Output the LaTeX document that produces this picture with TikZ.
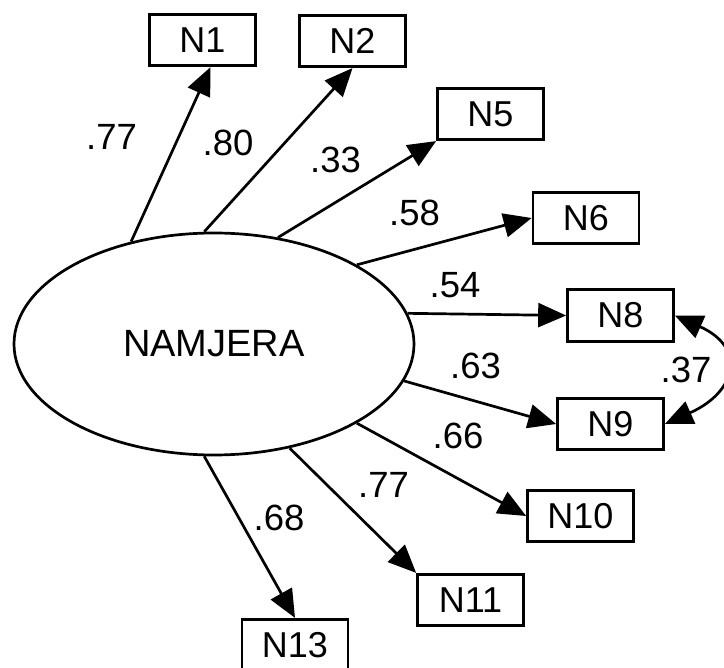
\documentclass[tikz,border=0pt]{standalone}
\usepackage{fontspec}
\setmainfont{Liberation Sans}
\usetikzlibrary{arrows.meta,shapes.geometric}
\begin{document}
\begin{tikzpicture}[x=1pt,y=-1pt,
  obs/.style={draw, line width=2.7pt, minimum width=106pt, minimum height=51.5pt, inner sep=0pt, font=\fontsize{36}{42}\selectfont},
  latent/.style={draw, ellipse, line width=2.7pt, minimum width=400pt, minimum height=222pt, inner sep=0pt, font=\fontsize{38}{44}\selectfont},
  load/.style={line width=2.7pt, -{Triangle[length=28pt,width=24pt]}},
  cov/.style={line width=2.7pt, {Triangle[length=28pt,width=24pt]}-{Triangle[length=28pt,width=24pt]}},
  coef/.style={inner sep=0pt, font=\fontsize{36.5}{42}\selectfont}]
\useasboundingbox (0,0) rectangle (724,668);
\fill[white] (0,0) rectangle (724,668);

\node[latent] (F) at (214,344) {NAMJERA};
\node[obs] (N1) at (202.5,40) {N1};
\node[obs] (N2) at (352.5,41) {N2};
\node[obs] (N5) at (490.5,114) {N5};
\node[obs] (N6) at (586,218) {N6};
\node[obs] (N8) at (620.5,315.5) {N8};
\node[obs] (N9) at (610.5,424) {N9};
\node[obs] (N10) at (580.5,516) {N10};
\node[obs] (N11) at (470.5,600) {N11};
\node[obs] (N13) at (295,645) {N13};

\draw[load] (F.129.6) -- ([xshift=8pt]N1.south);
\draw[load] (F.95.6) -- (N2.south);
\draw[load] (F.59.3) -- (N5.south west);
\draw[load] (F.29.8) -- (N6.west);
\draw[load] (F.9.8) -- (N8.west);
\draw[load] (F.-11.4) -- (N9.west);
\draw[load] (F.-29.5) -- (N10.west);
\draw[load] (F.-54.4) -- (N11.north west);
\draw[load] (F.-95.6) -- (N13.north);
\draw[cov] (N8.east) .. controls +(72,32) and +(72,-32) .. (N9.east);

\node[coef] (c1) at (111.5,136.5) {.77};
\node[coef] (c2) at (228,142.5) {.80};
\node[coef] (c5) at (335.5,159.5) {.33};
\node[coef] (c6) at (414.5,212.5) {.58};
\node[coef] (c8) at (455,285) {.54};
\node[coef] (c9) at (475.5,365.5) {.63};
\node[coef] (c10) at (458,435.5) {.66};
\node[coef] (c11) at (383.5,484.5) {.77};
\node[coef] (c13) at (279,517.5) {.68};
\node[coef] (c89) at (686,369.5) {.37};
\end{tikzpicture}
\end{document}
